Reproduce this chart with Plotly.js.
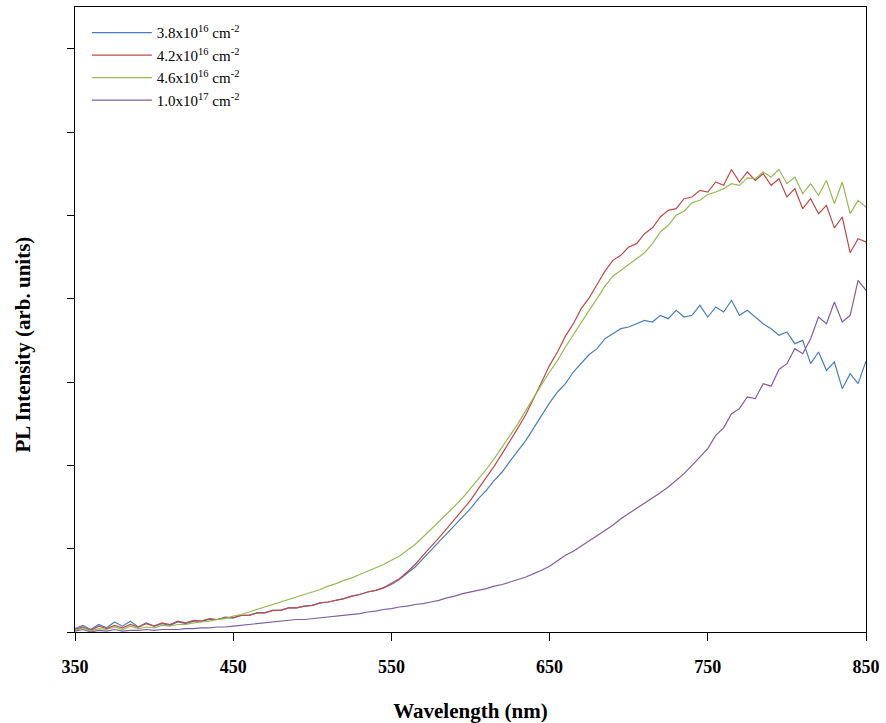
<!DOCTYPE html>
<html>
<head>
<meta charset="utf-8">
<script src="https://cdn.plot.ly/plotly-3.0.1.min.js"></script>
<style>html,body{margin:0;padding:0;background:#fff;}#chart{width:886px;height:723px;}</style>
</head>
<body>
<div id="chart"></div>
<script>
// Wavelength grid (nm), 5 nm step
const wavelength = [];
for (let w = 350; w <= 850; w += 5) wavelength.push(w);

const seriesNames = [
  "3.8x10<sup>16</sup> cm<sup>-2</sup>",
  "4.2x10<sup>16</sup> cm<sup>-2</sup>",
  "4.6x10<sup>16</sup> cm<sup>-2</sup>",
  "1.0x10<sup>17</sup> cm<sup>-2</sup>"
];

const dose38e16 = [0.04,0.08,0.03,0.09,0.05,0.12,0.07,0.13,0.06,0.11,0.07,0.10,0.08,0.12,0.10,0.13,0.13,0.15,0.15,0.17,
0.17,0.20,0.20,0.23,0.23,0.26,0.26,0.29,0.29,0.31,0.32,0.35,0.36,0.38,0.40,0.43,0.45,0.48,0.50,0.53,
0.57,0.63,0.70,0.78,0.88,0.98,1.08,1.18,1.28,1.38,1.48,1.60,1.70,1.82,1.92,2.05,2.17,2.30,2.45,2.60,
2.75,2.88,2.98,3.12,3.22,3.33,3.40,3.52,3.58,3.64,3.66,3.70,3.74,3.72,3.80,3.76,3.86,3.78,3.80,3.92,
3.78,3.90,3.84,3.98,3.80,3.86,3.78,3.70,3.64,3.56,3.60,3.46,3.50,3.22,3.36,3.14,3.24,2.92,3.10,2.98,3.25];

const dose42e16 = [0.03,0.06,0.02,0.07,0.04,0.08,0.05,0.09,0.06,0.10,0.07,0.11,0.09,0.13,0.11,0.14,0.13,0.16,0.15,0.18,
0.17,0.20,0.20,0.23,0.23,0.26,0.26,0.29,0.29,0.31,0.32,0.35,0.36,0.38,0.40,0.43,0.45,0.48,0.50,0.53,
0.58,0.64,0.72,0.81,0.92,1.02,1.13,1.24,1.35,1.47,1.58,1.72,1.85,1.99,2.14,2.29,2.45,2.61,2.80,3.00,
3.20,3.36,3.55,3.70,3.88,4.01,4.17,4.33,4.46,4.52,4.62,4.66,4.78,4.85,4.98,5.06,5.08,5.20,5.22,5.30,
5.28,5.40,5.36,5.55,5.40,5.52,5.42,5.50,5.36,5.44,5.22,5.32,5.08,5.20,5.02,5.12,4.85,4.98,4.55,4.72,4.68];

const dose46e16 = [0.02,0.05,0.01,0.04,0.03,0.06,0.03,0.07,0.04,0.06,0.05,0.08,0.07,0.09,0.09,0.11,0.12,0.13,0.15,0.16,
0.19,0.21,0.24,0.27,0.30,0.33,0.36,0.39,0.42,0.45,0.48,0.51,0.55,0.58,0.62,0.65,0.69,0.73,0.77,0.81,
0.86,0.91,0.98,1.05,1.14,1.23,1.32,1.41,1.51,1.61,1.72,1.83,1.95,2.08,2.22,2.36,2.50,2.66,2.82,2.97,
3.12,3.26,3.42,3.57,3.72,3.86,4.00,4.15,4.27,4.34,4.42,4.48,4.55,4.66,4.80,4.88,5.00,5.05,5.15,5.18,
5.25,5.28,5.32,5.38,5.36,5.45,5.44,5.52,5.46,5.55,5.38,5.46,5.26,5.38,5.24,5.42,5.14,5.40,5.02,5.18,5.10];

const dose10e17 = [0.01,0.03,0.00,0.02,0.01,0.03,0.01,0.02,0.02,0.03,0.02,0.03,0.03,0.03,0.04,0.04,0.05,0.05,0.06,0.06,
0.07,0.08,0.09,0.10,0.11,0.12,0.13,0.14,0.15,0.15,0.16,0.17,0.18,0.19,0.20,0.21,0.22,0.24,0.25,0.27,
0.28,0.30,0.31,0.33,0.34,0.36,0.38,0.41,0.43,0.46,0.48,0.50,0.52,0.55,0.57,0.60,0.63,0.66,0.70,0.74,
0.79,0.86,0.92,0.97,1.03,1.10,1.16,1.22,1.28,1.36,1.42,1.48,1.55,1.60,1.67,1.74,1.82,1.90,2.00,2.10,
2.20,2.36,2.45,2.62,2.68,2.82,2.80,2.98,2.95,3.15,3.22,3.40,3.34,3.52,3.78,3.70,3.96,3.72,3.80,4.22,4.10];

const xTicks = [350, 450, 550, 650, 750, 850];
const colors = ["#4a7ebb", "#be4b48", "#98b954", "#7d60a0"];
const allSeries = [dose38e16, dose42e16, dose46e16, dose10e17];

const traces = allSeries.map((ys, i) => ({
  x: wavelength, y: ys, type: "scatter", mode: "lines", name: seriesNames[i],
  line: {color: colors[i], width: 1.2}
}));

const serif = "Liberation Serif, Times New Roman, serif";
const layout = {
  width: 886, height: 723,
  margin: {l: 75, r: 20, t: 7, b: 91},
  paper_bgcolor: "#fff", plot_bgcolor: "#fff",
  showlegend: true,
  legend: {x: 0.015, y: 0.985, xanchor: "left", yanchor: "top", bgcolor: "rgba(0,0,0,0)",
           font: {family: serif, size: 15, color: "#000"}, tracegroupgap: 0, itemwidth: 60},
  xaxis: {
    range: [350, 850], tickmode: "array", tickvals: xTicks, ticktext: xTicks.map(String),
    ticks: "outside", ticklen: 8, tickcolor: "#000", showgrid: false, zeroline: false,
    showline: true, linecolor: "#000", linewidth: 1, mirror: true, ticklabelstandoff: 10,
    tickfont: {family: serif, size: 18, color: "#000", weight: "bold"},
    title: {text: "<b>Wavelength (nm)</b>", font: {family: serif, size: 21, color: "#000"}, standoff: 28}
  },
  yaxis: {
    range: [0, 7.5], tickmode: "linear", tick0: 0, dtick: 1,
    ticks: "outside", ticklen: 7, tickcolor: "#000", showticklabels: false,
    showgrid: false, zeroline: false, showline: true, linecolor: "#000", linewidth: 1, mirror: true
  },
  annotations: [{
    text: "<b>PL Intensity (arb. units)</b>", xref: "paper", yref: "paper",
    x: -0.067, y: 0.46, xanchor: "center", yanchor: "middle", textangle: -90, showarrow: false,
    font: {family: serif, size: 21, color: "#000"}
  }]
};

Plotly.newPlot("chart", traces, layout, {displayModeBar: false, staticPlot: true});
</script>
</body>
</html>
